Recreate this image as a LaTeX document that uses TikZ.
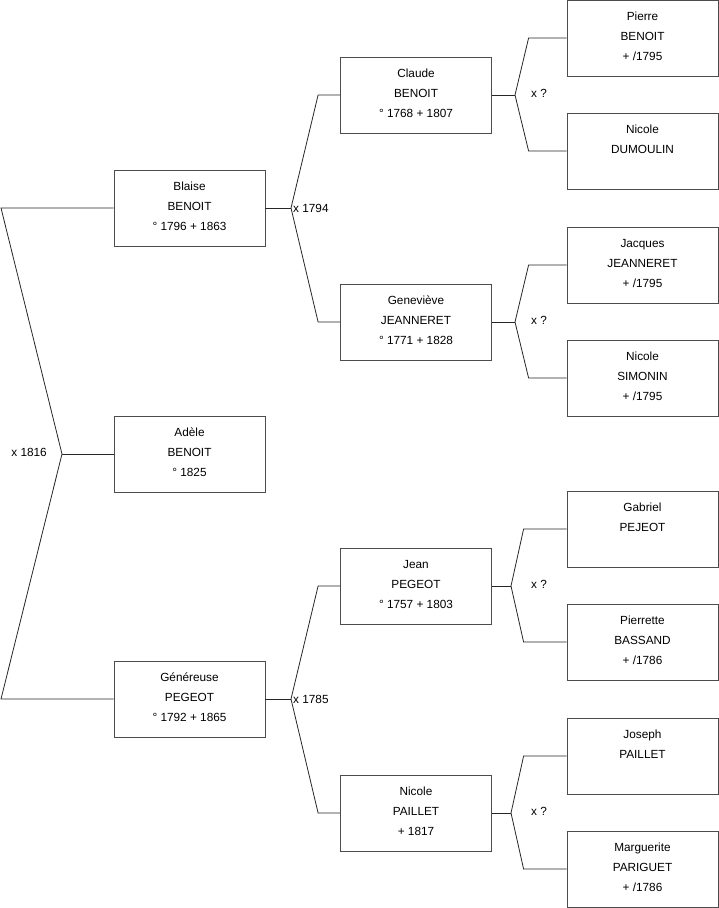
\documentclass[tikz,border=0pt]{standalone}
\usepackage{fontspec}
\setmainfont{Liberation Sans}
\usetikzlibrary{positioning}
\newcommand{\person}[3]{#1\strut\\#2\strut\\#3\rule[-9pt]{0pt}{1pt}\strut}
\tikzset{
  personbox/.style={draw=black!70, line width=0.8pt, minimum width=151pt, minimum height=76pt,
    inner sep=0pt, align=center, font=\fontsize{11.8}{20}\selectfont},
  branch/.style={draw=black!85, line width=0.8pt},
  union/.style={inner sep=0pt, font=\fontsize{11.8}{14}\selectfont}
}
\begin{document}
\begin{tikzpicture}[x=1pt,y=-1pt]
\useasboundingbox (0,0) rectangle (719,908);
\node[personbox] (blaise) at (189.5,208) {\person{Blaise}{BENOIT}{° 1796 + 1863}};
\node[personbox] (adele) at (189.5,454) {\person{Adèle}{BENOIT}{° 1825}};
\node[personbox] (genereuse) at (189.5,699) {\person{Généreuse}{PEGEOT}{° 1792 + 1865}};
\node[personbox] (claude) at (416,95) {\person{Claude}{BENOIT}{° 1768 + 1807}};
\node[personbox] (genevieve) at (416,322) {\person{Geneviève}{JEANNERET}{° 1771 + 1828}};
\node[personbox] (jean) at (416,586) {\person{Jean}{PEGEOT}{° 1757 + 1803}};
\node[personbox] (nicolep) at (416,813) {\person{Nicole}{PAILLET}{+ 1817}};
\node[personbox] (pierre) at (642.5,38) {\person{Pierre}{BENOIT}{+ /1795}};
\node[personbox] (nicoled) at (642.5,151) {\person{Nicole}{DUMOULIN}{}};
\node[personbox] (jacques) at (642.5,265) {\person{Jacques}{JEANNERET}{+ /1795}};
\node[personbox] (nicoles) at (642.5,378) {\person{Nicole}{SIMONIN}{+ /1795}};
\node[personbox] (gabriel) at (642.5,529) {\person{Gabriel}{PEJEOT}{}};
\node[personbox] (pierrette) at (642.5,642) {\person{Pierrette}{BASSAND}{+ /1786}};
\node[personbox] (joseph) at (642.5,756) {\person{Joseph}{PAILLET}{}};
\node[personbox] (marguerite) at (642.5,869) {\person{Marguerite}{PARIGUET}{+ /1786}};

\coordinate (top) at (1,208);
\coordinate (jadele) at (62,454);
\coordinate (bottom) at (1,699);
\coordinate (jblaise) at (291,208);
\coordinate (jgenereuse) at (291,699);
\coordinate (jclaude) at (515,95);
\coordinate (jgenevieve) at (515,322);
\coordinate (jjean) at (511,586);
\coordinate (jnicolep) at (511,813);

\draw[branch] (blaise.west) -- (top) -- (jadele) -- (bottom) -- (genereuse.west);
\draw[branch] (jadele) -- (adele.west);
\foreach \p/\up/\down/\gap in {blaise/claude/genevieve/22, genereuse/jean/nicolep/22,
  claude/pierre/nicoled/38, genevieve/jacques/nicoles/38,
  jean/gabriel/pierrette/43, nicolep/joseph/marguerite/43}
{
\draw[branch] (\p.east) -- (j\p);
\draw[branch] (\up.west) -- ++(-\gap,0) -- (j\p) -- ([xshift=-\gap pt]\down.west) -- (\down.west);
}

\node[union, anchor=east] (uadele) at (47,452) {x 1816};
\node[union, right=2pt of jblaise] (ublaise) {x 1794};
\node[union, right=2pt of jgenereuse] (ugenereuse) {x 1785};
\node[union] (uclaude) at (539,93) {x ?};
\node[union] (ugenevieve) at (539,320) {x ?};
\node[union] (ujean) at (539,584) {x ?};
\node[union] (unicolep) at (539,811) {x ?};
\end{tikzpicture}
\end{document}
